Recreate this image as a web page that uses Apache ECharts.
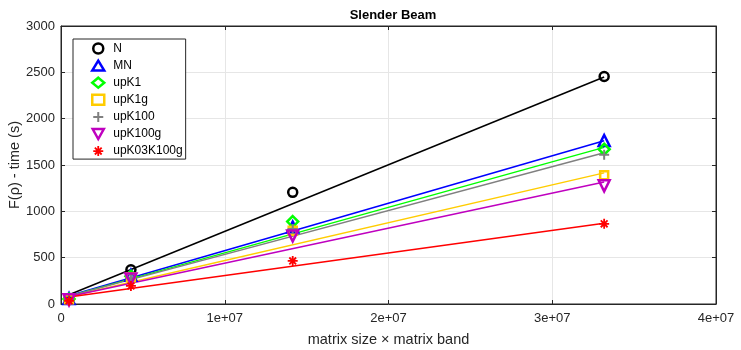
<!DOCTYPE html>
<html><head><meta charset="utf-8">
<script src="https://cdn.jsdelivr.net/npm/echarts@6/dist/echarts.min.js"></script>
<style>html,body{margin:0;padding:0;background:#fff}#c{width:741px;height:350px}</style>
</head><body><div id="c"></div>
<script>
const xValues = [4.9e5, 4.27e6, 1.415e7, 3.317e7];
const seriesNames = ['N','MN','upK1','upK1g','upK100','upK100g','upK03K100g'];
const valN = [55, 370, 1205, 2455];
const valMN = [60, 310, 830, 1765];
const valUpK1 = [55, 300, 890, 1670];
const valUpK1g = [50, 290, 790, 1390];
const valUpK100 = [50, 285, 810, 1610];
const valUpK100g = [45, 270, 735, 1275];
const valUpK03K100g = [35, 195, 465, 865];
// fitted line values at first and last x
const fitX = [4.9e5, 3.317e7];
const fitN = [100, 2450];
const fitMN = [90, 1762];
const fitUpK1 = [85, 1690];
const fitUpK1g = [80, 1415];
const fitUpK100 = [85, 1633];
const fitUpK100g = [80, 1317];
const fitUpK03K100g = [75, 871];
const xTicks = [0, 1e7, 2e7, 3e7, 4e7];
const yTicks = [0, 500, 1000, 1500, 2000, 2500, 3000];

const vals = [valN, valMN, valUpK1, valUpK1g, valUpK100, valUpK100g, valUpK03K100g];
const fits = [fitN, fitMN, fitUpK1, fitUpK1g, fitUpK100, fitUpK100g, fitUpK03K100g];
const colors = ['#000000','#0000ff','#00ff00','#ffcc00','#808080','#bf00bf','#ff0000'];
const plusPath = 'path://M4,0H6V4H10V6H6V10H4V6H0V4H4Z';
const starPath = 'path://M5,0L5,10M0,5L10,5M1.6,1.6L8.4,8.4M8.4,1.6L1.6,8.4';
const symbols = ['circle','triangle','diamond','rect',plusPath,'path://M0,0L10,0L5,9Z',starPath];
const sizes = [9,11,11,8,10,11,10];
const styles = colors.map((c,i)=>{
  if(i===4) return {color:c, borderWidth:0, opacity:1};
  return {color:'rgba(0,0,0,0)', borderColor:c, borderWidth: i===6?1.8:2.5, opacity:1};
});

const series = [];
for(let i=0;i<7;i++){
  series.push({
    type:'line', name:seriesNames[i]+'_fit', silent:true,
    data: fitX.map((x,k)=>[x, fits[i][k]]),
    showSymbol:false, symbol:'none',
    lineStyle:{color:colors[i], width:1.5}, z:2, animation:false
  });
}
for(let i=0;i<7;i++){
  series.push({
    type:'scatter', name:seriesNames[i],
    data: xValues.map((x,k)=>[x, vals[i][k]]),
    symbol: symbols[i], symbolSize: sizes[i],
    itemStyle: styles[i], z:3, animation:false
  });
}

const font = 'Liberation Sans, Arial, sans-serif';
const tick = {show:true, inside:true, length:4, lineStyle:{color:'#262626'}};
const chart = echarts.init(document.getElementById('c'));
chart.setOption({
  animation:false,
  textStyle:{fontFamily:font},
  title:{text:'Slender Beam', left:388, top:4, textAlign:'center',
    textStyle:{fontSize:13, fontWeight:'bold', color:'#000', fontFamily:font}},
  grid:{left:61, right:25, top:26, bottom:46, containLabel:false, outerBoundsMode:'none',
    show:true, borderColor:'#262626', borderWidth:1},
  legend:{
    orient:'vertical', left:73, top:39, padding:[3,3,1.5,18],
    backgroundColor:'#fff', borderColor:'#262626', borderWidth:1,
    itemWidth:12, itemHeight:10, itemGap:4.1,
    textStyle:{fontSize:12, lineHeight:13, color:'#000', fontFamily:font, padding:[0,0,0,4]},
    data: seriesNames.map((n,i)=>({name:n, icon:symbols[i], itemStyle:styles[i]}))
  },
  xAxis:[{
    type:'value', min:0, max:4e7, interval:1e7,
    axisLine:{show:true, onZero:false, lineStyle:{color:'#262626'}},
    axisTick:tick,
    axisLabel:{color:'#262626', fontSize:13, margin:8,
      formatter:v=> v===0 ? '0' : (v/1e7).toFixed(0)+'e+07'},
    splitLine:{show:true, lineStyle:{color:'#e6e6e6'}},
    name:'matrix size \u00d7 matrix band', nameLocation:'middle', nameGap:28,
    nameMoveOverlap:false,
    nameTextStyle:{fontSize:14.5, color:'#262626'}
  },{
    type:'value', min:0, max:4e7, interval:1e7, position:'top',
    axisLine:{show:true, onZero:false, lineStyle:{color:'#262626'}},
    axisTick:tick,
    axisLabel:{show:false}, splitLine:{show:false}
  }],
  yAxis:[{
    type:'value', min:0, max:3000, interval:500,
    axisLine:{show:true, onZero:false, lineStyle:{color:'#262626'}},
    axisTick:tick,
    axisLabel:{color:'#262626', fontSize:13, margin:6, formatter:v=>String(v)},
    splitLine:{show:true, lineStyle:{color:'#e6e6e6'}},
    name:'F(\u03c1) - time (s)', nameLocation:'middle', nameGap:39,
    nameMoveOverlap:false,
    nameTextStyle:{fontSize:14.5, color:'#262626'}
  },{
    type:'value', min:0, max:3000, interval:500, position:'right',
    axisLine:{show:true, onZero:false, lineStyle:{color:'#262626'}},
    axisTick:tick,
    axisLabel:{show:false}, splitLine:{show:false}
  }],
  series: series
});
</script></body></html>
